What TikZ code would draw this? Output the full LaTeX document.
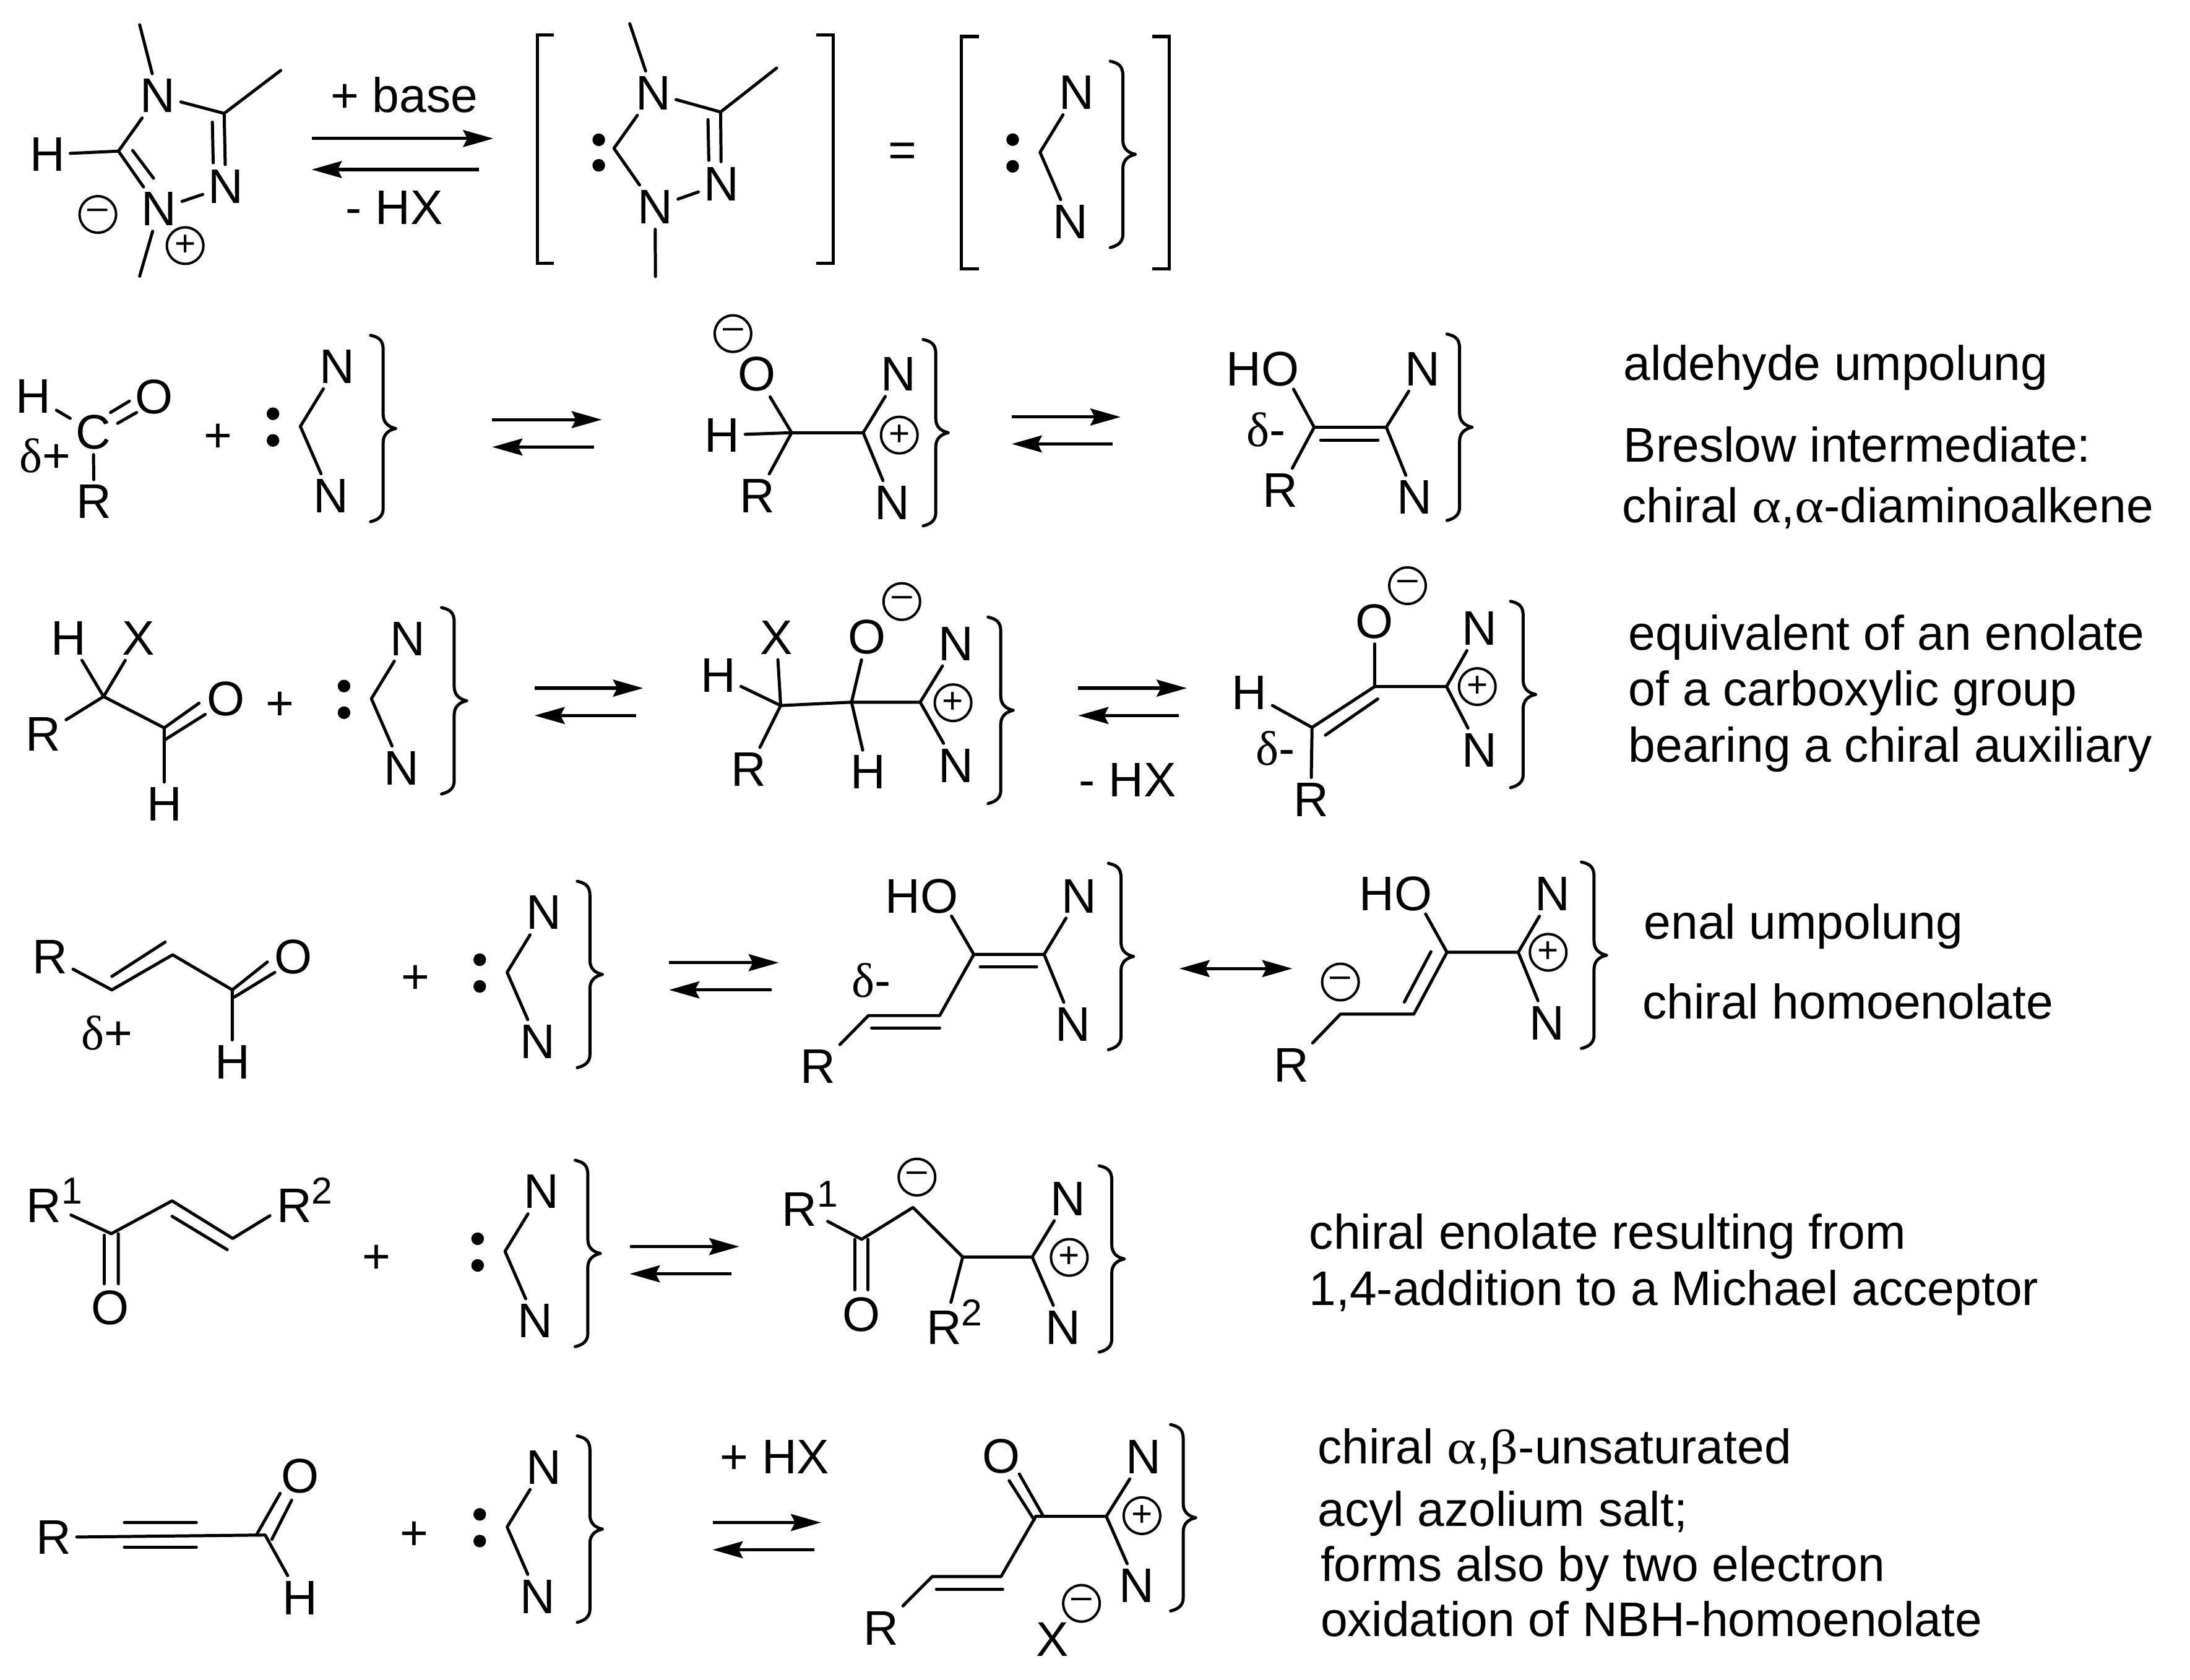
\documentclass[tikz,border=0pt]{standalone}
\usepackage{fontspec}
\setmainfont{Liberation Sans}
\newfontfamily\greekfont{Liberation Serif}
\newfontfamily\alphafont[FakeStretch=1.15]{Liberation Serif}
\usetikzlibrary{arrows.meta, calc}

\newcommand{\gk}[1]{{\greekfont #1}}
\newcommand{\ga}[1]{{\alphafont #1}}
\newcommand{\labelfont}{\fontsize{19.7}{24}\selectfont}
\newcommand{\rsup}[1]{R\raisebox{7.6pt}{\fontsize{15.2}{16}\selectfont #1}}
\newcommand{\curly}[2]{\draw[bond, shift={(#1,#2)}] (-18,-66.4) .. controls (-12,-65) and (-9,-63) .. (-9,-56) -- (-9,-10)
    .. controls (-9,-4) and (-5,-1) .. (0,0) .. controls (-5,1) and (-9,4) .. (-9,10) -- (-9,57)
    .. controls (-9,62) and (-12,65) .. (-18,66.4);}
\newcommand{\inbond}[4]{\draw[bond] ($(#1)+(#3)$) -- ($(#2)+(#4)$);}
\newcommand{\equil}[6]{
    \coordinate (#1ta) at (#2,#5);
    \coordinate (#1tb) at (#3,#5);
    \coordinate (#1ba) at (#2,#6);
    \coordinate (#1bb) at (#4,#6);
    \draw[eqarrow] (#1ta) -- (#1tb);
    \draw[eqarrow] (#1bb) -- (#1ba);
}
\newcommand{\carbene}[3]{
    \begin{scope}[shift={(#2,#3)}]
    \node[dot] (#1d1) at (-19.5,-9) {};
    \node[dot] (#1d2) at (-19.5,10) {};
    \coordinate (#1c) at (0,0);
    \node[atom] (#1n1) at (26,-42.5) {N};
    \node[atom] (#1n2) at (21.6,49.5) {N};
    \draw[bond] (#1n1) -- (#1c) -- (#1n2);
    \curly{68}{1.5}
    \end{scope}
}

\begin{document}
\begin{tikzpicture}[x=0.02cm, y=-0.02cm,
    bond/.style={line width=1.25pt, line cap=round, line join=round},
    bracket/.style={line width=1.3pt},
    eqarrow/.style={line width=1.3pt, -{Stealth[length=0.43cm, width=0.24cm, inset=0.06cm]}},
    atom/.style={inner sep=2pt, font=\labelfont},
    lab/.style={inner sep=0pt, anchor=base, font=\labelfont},
    note/.style={inner sep=0pt, anchor=base west, font=\labelfont},
    dot/.style={circle, fill=black, inner sep=0pt, minimum size=0.18cm},
    charge/.style={circle, draw, line width=1pt, inner sep=0pt, minimum size=0.52cm, font=\fontsize{14.7}{15}\selectfont}]

\useasboundingbox (0,0) rectangle (1560.3,1197);

% azolium salt and free carbene
\node[atom] (h1) at (33.7,110) {H};
\node[atom] (n1a) at (112.5,68.3) {N};
\node[atom] (n1b) at (160.8,133) {N};
\node[atom] (n1c) at (113.3,149) {N};
\coordinate (c1a) at (84.4,107.7);
\coordinate (c1b) at (159.7,80.8);
\coordinate (me1a) at (99.5,17.6);
\coordinate (me1b) at (200,50.2);
\coordinate (me1c) at (99.5,196.8);
\draw[bond] (me1a) -- (n1a) -- (c1b) -- (me1b);
\draw[bond] (c1b) -- (n1b) -- (n1c) -- (me1c);
\draw[bond] (n1a) -- (c1a) -- (h1);
\draw[bond] (c1a) -- (n1c);
\inbond{c1a}{n1c}{10.1,-0.5}{-3.9,-22}
\inbond{c1b}{n1b}{-8.4,6.2}{-8.9,-17}
\node[charge] (ch1a) at (69.7,152.8) {--};
\node[charge] (ch1b) at (131.9,175) {+};
\node[lab] (base) at (288,80) {+ base};
\node[lab] (hx1) at (281,160) {- HX};
\equil{eq1}{222}{351.5}{341.4}{98.7}{120.8}
\draw[bracket] (394.5,25) -- (383,25) -- (383,187.6) -- (394.5,187.6);

\node[dot] (d2a) at (426.6,99.6) {};
\node[dot] (d2b) at (426.6,117.8) {};
\node[atom] (n2a) at (465.3,66.4) {N};
\node[atom] (n2b) at (513.9,131) {N};
\node[atom] (n2c) at (466.7,147.6) {N};
\coordinate (c2a) at (437.4,105.7);
\coordinate (c2b) at (513.4,79.8);
\coordinate (me2a) at (448.7,16.9);
\coordinate (me2b) at (553.3,48.5);
\coordinate (me2c) at (467,197);
\draw[bond] (me2a) -- (n2a) -- (c2b) -- (me2b);
\draw[bond] (c2b) -- (n2b) -- (n2c) -- (me2c);
\draw[bond] (n2a) -- (c2a) -- (n2c);
\inbond{c2b}{n2b}{-9,5.4}{-8.9,-16.7}
\draw[bracket] (581.4,25) -- (593.5,25) -- (593.5,187.6) -- (581.4,187.6);
\node[lab] (eq) at (643,119) {=};
\draw[bracket] (697.5,26) -- (684.9,26) -- (684.9,191.7) -- (697.5,191.7);
\carbene{k1}{741}{108.5}
\draw[bracket] (821,26) -- (833,26) -- (833,191.7) -- (821,191.7);

% aldehyde umpolung
\node[atom] (h3) at (23.9,282.6) {H};
\node[atom] (o3) at (109.7,282.6) {O};
\node[atom] (c3) at (66.4,307.8) {C};
\node[atom] (r3) at (67,357.5) {R};
\node[atom] (dl3) at (32.2,324.8) {\gk{δ}+};
\draw[bond] (h3) -- (c3) -- (r3);
\inbond{c3}{o3}{12.3,-13.9}{-17.5,3.2}
\inbond{c3}{o3}{17.4,-6.2}{-12.4,11.3}
\node[lab] (p3) at (155.5,322) {+};
\carbene{k2}{214}{303.8}
\equil{eq2}{350.7}{428.8}{423.2}{299}{318.5}
\node[charge] (ch4a) at (522.2,237.7) {--};
\node[atom] (o4) at (539,266.7) {O};
\node[atom] (h4) at (514.6,310) {H};
\node[atom] (r4) at (539.5,353.4) {R};
\node[atom] (n4a) at (640.3,266.7) {N};
\node[atom] (n4b) at (635.6,358.2) {N};
\coordinate (c4a) at (564,308.3);
\coordinate (c4b) at (615,308.3);
\draw[bond] (o4) -- (c4a) -- (r4);
\draw[bond] (h4) -- (c4a) -- (c4b);
\draw[bond] (n4a) -- (c4b) -- (n4b);
\node[charge] (ch4b) at (640.7,310) {+};
\curly{675.7}{308.3}
\equil{eq3}{720.8}{798.4}{792.9}{297.1}{316.3}
\node[atom] (ho5) at (899.6,263) {HO};
\coordinate (ho5b) at ([shift={(22,14.3)}]ho5.center);
\node[atom] (dl5) at (902,306) {\gk{δ}-};
\node[atom] (n5a) at (1013.5,263) {N};
\node[atom] (n5b) at (1008,354.4) {N};
\node[atom] (r5) at (912.3,349.4) {R};
\coordinate (c5a) at (936.3,304.4);
\coordinate (c5b) at (987.7,304.4);
\draw[bond] (ho5b) -- (c5a) -- (r5);
\draw[bond] (c5a) -- (c5b);
\draw[bond] (n5a) -- (c5b) -- (n5b);
\inbond{c5a}{c5b}{4.7,9.1}{-5.9,9.1}
\curly{1048.9}{304.4}
\node[note] (t1) at (1156.5,271) {aldehyde umpolung};
\node[note] (t2) at (1156.5,329) {Breslow intermediate:};
\node[note] (t3) at (1155.5,372.5) {chiral \ga{α},\ga{α}-diaminoalkene};

% enolate equivalent
\node[atom] (h6a) at (49,454.7) {H};
\node[atom] (x6) at (98.7,454.7) {X};
\node[atom] (r6) at (30.7,523) {R};
\node[atom] (o6) at (160.8,498) {O};
\node[atom] (h6b) at (117,573) {H};
\coordinate (c6a) at (73.8,496.3);
\coordinate (c6b) at (117,518.6);
\draw[bond] (h6a) -- (c6a) -- (x6);
\draw[bond] (r6) -- (c6a) -- (c6b) -- (h6b);
\inbond{c6b}{o6}{0,0}{-19,3}
\inbond{c6b}{o6}{0,8.8}{-14.6,11}
\node[lab] (p6) at (199.5,513) {+};
\carbene{k3}{264.6}{497.8}
\equil{eq4}{380.8}{458.3}{453.2}{490.3}{509.8}
\node[atom] (x7) at (553.3,454.3) {X};
\node[atom] (o7) at (617.6,454) {O};
\node[charge] (ch7a) at (642.5,428.6) {--};
\node[atom] (h7a) at (511.6,481.2) {H};
\node[atom] (r7) at (533.6,548.3) {R};
\node[atom] (h7b) at (618.3,550.2) {H};
\node[atom] (n7a) at (681.2,458.7) {N};
\node[atom] (n7b) at (681.2,545.4) {N};
\coordinate (c7a) at (556.2,502.7);
\coordinate (c7b) at (606.7,500.3);
\coordinate (c7c) at (655.6,500.3);
\draw[bond] (x7) -- (c7a) -- (r7);
\draw[bond] (h7a) -- (c7a) -- (c7b) -- (c7c);
\draw[bond] (o7) -- (c7b) -- (h7b);
\draw[bond] (n7a) -- (c7c) -- (n7b);
\node[charge] (ch7b) at (679,500.7) {+};
\curly{722}{506.1}
\equil{eq5}{768.2}{845.6}{839.8}{490.3}{509.8}
\node[lab] (hx2) at (803.3,567.5) {- HX};
\node[atom] (o8) at (979.4,442.7) {O};
\node[charge] (ch8a) at (1002.8,417.3) {--};
\node[atom] (h8) at (890.2,493.6) {H};
\node[atom] (dl8) at (908.7,533.3) {\gk{δ}-};
\node[atom] (r8) at (934,569.7) {R};
\node[atom] (n8a) at (1054,447.8) {N};
\node[atom] (n8b) at (1054,534.5) {N};
\coordinate (c8a) at (934.8,518.3);
\coordinate (c8b) at (979.4,489.2);
\coordinate (c8c) at (1030.6,489.2);
\draw[bond] (h8) -- (c8a) -- (r8);
\draw[bond] (c8a) -- (c8b) -- (o8);
\draw[bond] (c8b) -- (c8c);
\draw[bond] (n8a) -- (c8c) -- (n8b);
\inbond{c8a}{c8b}{9.5,5.5}{2.2,8.8}
\node[charge] (ch8b) at (1052.5,489.2) {+};
\curly{1094.2}{494.8}
\node[note] (t4) at (1160,463) {equivalent of an enolate};
\node[note] (t5) at (1160,503) {of a carboxylic group};
\node[note] (t6) at (1160,543) {bearing a chiral auxiliary};

% enal umpolung
\node[atom] (r9) at (35.7,681.8) {R};
\node[atom] (o9) at (208.8,681.8) {O};
\node[atom] (h9) at (165.5,756.7) {H};
\node[atom] (dl9) at (76.3,736) {\gk{δ}+};
\coordinate (c9a) at (79.7,705.3);
\coordinate (c9b) at (123,680.3);
\coordinate (c9c) at (165.5,705.3);
\draw[bond] (r9) -- (c9a) -- (c9b) -- (c9c) -- (h9);
\inbond{c9a}{c9b}{0,-9.6}{-5.3,-9.1}
\inbond{c9c}{o9}{0,0}{-18.3,3.6}
\inbond{c9c}{o9}{1.5,5.1}{-13,11}
\node[lab] (p9) at (296,708) {+};
\carbene{k4}{361.3}{692.8}
\equil{eq6}{476.7}{554.9}{549.6}{685.9}{705.3}
\node[atom] (ho10) at (656.6,638.4) {HO};
\coordinate (ho10b) at ([shift={(21.3,14.3)}]ho10.center);
\node[atom] (dl10) at (620.6,698.7) {\gk{δ}-};
\node[atom] (r10) at (583,760) {R};
\node[atom] (n10a) at (769,638.4) {N};
\node[atom] (n10b) at (764.4,729.9) {N};
\coordinate (c10a) at (693.8,680);
\coordinate (c10b) at (743.9,680);
\coordinate (c10c) at (669.5,723.6);
\coordinate (c10d) at (618.7,723.6);
\draw[bond] (ho10b) -- (c10a) -- (c10b);
\draw[bond] (n10a) -- (c10b) -- (n10b);
\draw[bond] (c10a) -- (c10c) -- (c10d) -- (r10);
\inbond{c10a}{c10b}{4.6,8.8}{-5.3,8.8}
\inbond{c10c}{c10d}{0,8.8}{2.3,8.8}
\curly{807.7}{681.5}
\coordinate (res1) at (840.3,690.1);
\coordinate (res2) at (920.8,690.1);
\draw[line width=1.3pt, {Stealth[length=0.43cm, width=0.24cm, inset=0.06cm]}-{Stealth[length=0.43cm, width=0.24cm, inset=0.06cm]}] (res1) -- (res2);
\node[atom] (ho11) at (994.4,637) {HO};
\coordinate (ho11b) at ([shift={(21.3,14.2)}]ho11.center);
\node[charge] (ch11a) at (955,699.7) {--};
\node[atom] (r11) at (920,758.9) {R};
\node[atom] (n11a) at (1106,637) {N};
\node[atom] (n11b) at (1102.2,728.8) {N};
\coordinate (c11a) at (1030.9,678.5);
\coordinate (c11b) at (1081.7,678.5);
\coordinate (c11c) at (1007.3,722.6);
\coordinate (c11d) at (955,722.6);
\draw[bond] (ho11b) -- (c11a) -- (c11b);
\draw[bond] (n11a) -- (c11b) -- (n11b);
\draw[bond] (c11a) -- (c11c) -- (c11d) -- (r11);
\inbond{c11a}{c11c}{-11.4,-0.4}{-6.8,-8.6}
\node[charge] (ch11b) at (1103,678.5) {+};
\curly{1144.7}{680.6}
\node[note] (t7) at (1171,669) {enal umpolung};
\node[note] (t8) at (1170,726) {chiral homoenolate};

% michael acceptor
\node[lab] (r12a) at (38.8,870.9) {\rsup{1}};
\node[lab] (r12b) at (217,870.9) {\rsup{2}};
\node[atom] (o12) at (78.7,932) {O};
\coordinate (r12ae) at ([shift={(11.8,-5.2)}]r12a.base);
\coordinate (r12be) at ([shift={(-24.7,-4.7)}]r12b.base);
\coordinate (c12a) at (79.3,879);
\coordinate (c12b) at (122.6,855.6);
\coordinate (c12c) at (165.8,882.4);
\draw[bond] (r12ae) -- (c12a) -- (c12b) -- (c12c) -- (r12be);
\inbond{c12b}{c12c}{0,11}{-3.9,8}
\inbond{c12a}{o12}{-5.1,1.1}{-4.5,-17.3}
\inbond{c12a}{o12}{5,0}{5.6,-17.3}
\node[lab] (p12) at (268.2,907) {+};
\carbene{k5}{359.8}{891.6}
\equil{eq7}{448.6}{526.8}{521.2}{888.2}{907.6}
\node[lab] (r13a) at (577,873.5) {\rsup{1}};
\node[lab] (r13b) at (680,958) {\rsup{2}};
\node[charge] (ch13a) at (653.3,838.7) {--};
\node[atom] (o13) at (613.9,936.7) {O};
\node[atom] (n13a) at (760.7,854) {N};
\node[atom] (n13b) at (757.3,945.8) {N};
\coordinate (r13ae) at ([shift={(12.7,-3.3)}]r13a.base);
\coordinate (r13be) at ([shift={(-2.5,-30.1)}]r13b.base);
\coordinate (c13a) at (613.9,883);
\coordinate (c13b) at (650.5,860.3);
\coordinate (c13c) at (685.9,895.6);
\coordinate (c13d) at (735.4,895.6);
\draw[bond] (r13ae) -- (c13a) -- (c13b) -- (c13c) -- (c13d);
\draw[bond] (c13c) -- (r13be);
\draw[bond] (n13a) -- (c13d) -- (n13b);
\inbond{c13a}{o13}{-5,0}{-5,-17.7}
\inbond{c13a}{o13}{4.5,0}{4.5,-17.7}
\node[charge] (ch13b) at (761.8,895.9) {+};
\curly{801.1}{897}
\node[note] (t9) at (932.5,890) {chiral enolate resulting from};
\node[note] (t10) at (932.5,930) {1,4-addition to a Michael acceptor};

% ynal
\node[atom] (r14) at (38.4,1095.3) {R};
\node[atom] (o14) at (213.7,1051.7) {O};
\node[atom] (h14) at (213.7,1138.4) {H};
\coordinate (c14) at (188.9,1093.7);
\draw[bond] (r14) -- (c14) -- (h14);
\coordinate (ta14) at (88.6,1084.8);
\coordinate (tb14) at (139.9,1084.8);
\coordinate (tc14) at (88.6,1102.5);
\coordinate (td14) at (139.9,1102.5);
\draw[bond] (ta14) -- (tb14);
\draw[bond] (tc14) -- (td14);
\inbond{c14}{o14}{-5.9,-0.6}{-14.1,12.3}
\inbond{c14}{o14}{4.8,3.1}{-5.9,17.2}
\node[lab] (p14) at (295.2,1104) {+};
\carbene{k6}{361.3}{1088}
\node[lab] (hx3) at (552,1049.8) {+ HX};
\equil{eq8}{507.7}{585}{580.4}{1084.8}{1104.2}
\node[atom] (o15) at (713.2,1037.8) {O};
\node[atom] (r15) at (627.6,1160) {R};
\node[atom] (n15a) at (814.8,1038) {N};
\node[atom] (n15b) at (810,1129.9) {N};
\node[charge] (ch15a) at (770.5,1142.4) {--};
\node[atom] (x15) at (749.8,1168) {X};
\coordinate (c15a) at (738,1080.4);
\coordinate (c15b) at (788.2,1080.4);
\coordinate (c15c) at (713.2,1123.3);
\coordinate (c15d) at (664.2,1123.3);
\draw[bond] (c15a) -- (c15b);
\draw[bond] (n15a) -- (c15b) -- (n15b);
\draw[bond] (c15a) -- (c15c) -- (c15d) -- (r15);
\inbond{c15a}{o15}{-1.2,2.5}{5.8,17.2}
\inbond{c15a}{o15}{4.7,-1.2}{13,12.4}
\inbond{c15c}{c15d}{1.2,9.1}{3,9.1}
\node[charge] (ch15b) at (813.6,1079.9) {+};
\curly{852}{1081.4}
\node[note] (t11) at (938.5,1043) {chiral \ga{α},\ga{β}-unsaturated};
\node[note] (t12) at (938.5,1087.5) {acyl azolium salt;};
\node[note] (t13) at (940.5,1126.5) {forms also by two electron};
\node[note] (t14) at (940.5,1166) {oxidation of NBH-homoenolate};
\end{tikzpicture}
\end{document}
